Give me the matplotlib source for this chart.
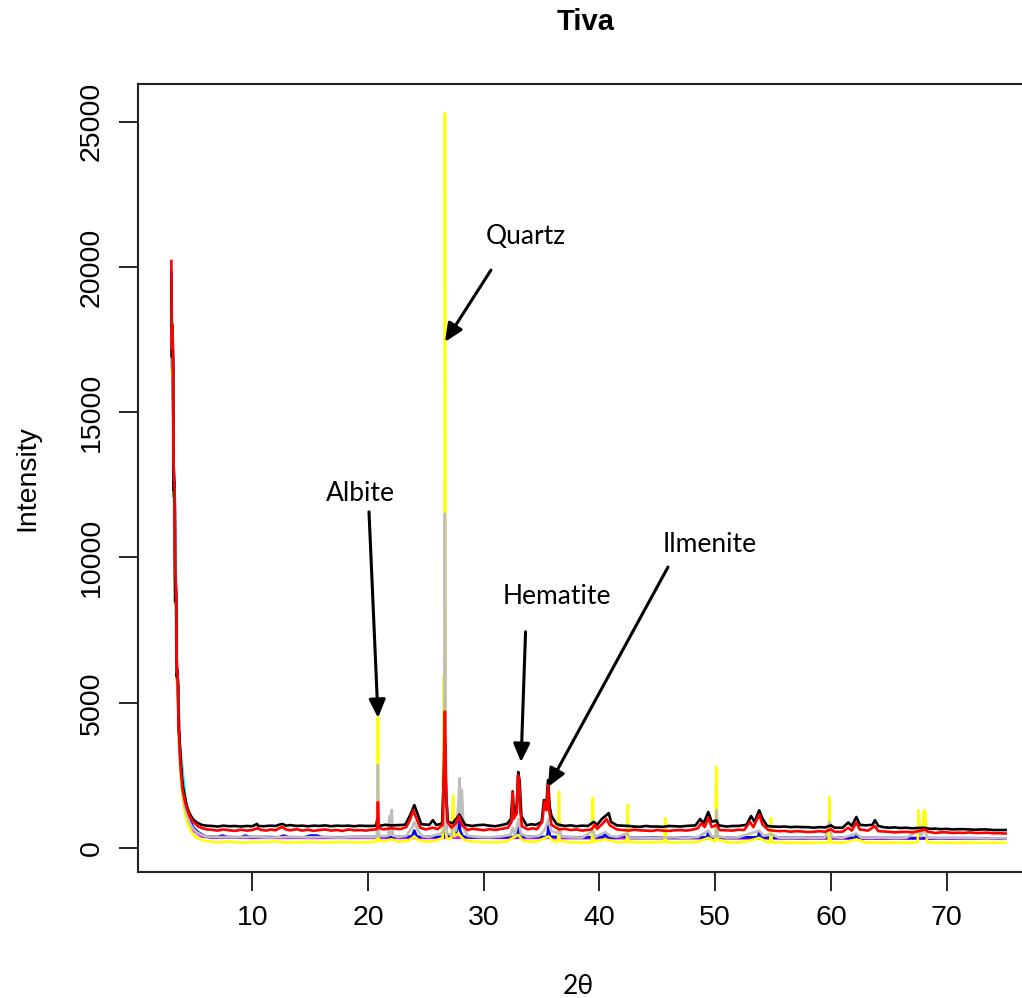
import matplotlib
matplotlib.use("Agg")
import matplotlib.pyplot as plt

# XRD patterns of the Tiva samples: (2-theta, intensity) vertices per sample
red_pattern = [
    (3.00, 20200), (3.05, 17200), (3.10, 18000), (3.14, 16800), (3.18, 13300), (3.23, 12900),
    (3.28, 12300), (3.32, 9500), (3.37, 9300), (3.42, 8600), (3.46, 6400), (3.51, 6100),
    (3.56, 5800), (3.61, 4200), (3.67, 3900), (3.76, 3000), (3.86, 2500), (3.96, 2050),
    (4.10, 1750), (4.25, 1480), (4.40, 1280), (4.60, 1080), (4.80, 950), (5.05, 840),
    (5.35, 740), (5.70, 680), (6.10, 640), (6.5, 630), (7.0, 600), (7.5, 640), (8.0, 610),
    (8.5, 590), (9.0, 630), (9.5, 600), (10.0, 620), (10.4, 680), (10.8, 620), (11.2, 600),
    (11.6, 640), (12.0, 610), (12.3, 680), (12.6, 720), (12.9, 640), (13.3, 610),
    (13.8, 650), (14.3, 600), (14.8, 630), (15.3, 590), (15.8, 620), (16.3, 640),
    (16.8, 600), (17.3, 620), (17.8, 590), (18.3, 640), (18.8, 610), (19.3, 620),
    (19.8, 600), (20.3, 630), (20.6, 640), (20.78, 650), (20.85, 1580),
    (20.93, 700), (21.3, 640), (22.0, 680), (22.8, 650), (23.3, 720), (23.6, 950),
    (23.9, 1300), (24.2, 1000), (24.5, 700), (25.0, 640), (25.6, 700), (26.0, 650),
    (26.45, 800), (26.55, 2800), (26.64, 4700), (26.74, 2200), (26.85, 900), (27.2, 700),
    (27.6, 850), (27.85, 1100), (28.1, 800), (28.6, 620), (29.0, 660), (29.5, 640),
    (30.0, 610), (30.5, 650), (31.0, 620), (31.5, 660), (32.1, 700), (32.4, 900),
    (32.5, 1900), (32.58, 1000), (32.85, 1200), (32.95, 2500), (33.05, 2400), (33.15, 1300),
    (33.3, 750), (33.8, 640), (34.2, 680), (34.6, 650), (35.05, 900), (35.25, 1600),
    (35.4, 1300), (35.55, 2170), (35.65, 1300), (35.85, 800), (36.5, 640), (37.0, 660),
    (37.5, 620), (38.0, 640), (38.5, 600), (39.3, 640), (39.6, 800), (39.8, 660),
    (40.3, 850), (40.6, 1000), (40.9, 780), (41.5, 640), (42.0, 620), (42.5, 600),
    (43.0, 630), (43.5, 610), (44.0, 600), (44.5, 590), (45.0, 620), (45.5, 600),
    (46.0, 590), (46.5, 610), (47.0, 620), (47.5, 600), (48.0, 630), (48.5, 680),
    (48.8, 850), (49.1, 720), (49.4, 1050), (49.7, 720), (50.1, 800), (50.4, 620),
    (51.0, 610), (51.5, 600), (52.0, 630), (52.5, 620), (53.0, 900), (53.3, 720),
    (53.8, 1150), (54.1, 800), (54.6, 620), (55.0, 600), (55.5, 580), (56.0, 590),
    (56.5, 560), (57.0, 580), (57.5, 570), (58.0, 550), (58.5, 560), (59.0, 580),
    (59.5, 560), (60.0, 650), (60.3, 560), (61.0, 560), (61.5, 700), (61.8, 600),
    (62.2, 880), (62.5, 640), (63.2, 600), (63.8, 750), (64.1, 580), (64.5, 570),
    (65.0, 560), (65.5, 540), (66.0, 550), (66.5, 560), (67.0, 540), (67.8, 600),
    (68.1, 650), (68.4, 560), (69.0, 520), (69.5, 540), (70.0, 540), (70.5, 520),
    (71.0, 530), (71.5, 520), (72.0, 540), (72.5, 520), (73.0, 520), (73.5, 530),
    (74.0, 510), (74.5, 510), (75.1, 500),
]

black_pattern = [
    (3.00, 19500), (3.05, 16900), (3.10, 17600), (3.15, 16500), (3.19, 12300), (3.24, 12600),
    (3.29, 12000), (3.33, 8500), (3.38, 9000), (3.43, 8300), (3.47, 5900), (3.52, 6100),
    (3.58, 5600), (3.63, 4100), (3.70, 3800), (3.80, 3000), (3.90, 2500), (4.00, 2100),
    (4.15, 1800), (4.30, 1500), (4.50, 1250), (4.70, 1100), (4.90, 980), (5.20, 880),
    (5.60, 800), (6.00, 770), (6.5, 760), (7.0, 740), (7.5, 770), (8.0, 750), (8.5, 760),
    (9.0, 740), (9.5, 760), (10.0, 750), (10.4, 830), (10.5, 760), (11.0, 750),
    (11.5, 770), (12.0, 760), (12.3, 800), (12.6, 830), (12.9, 770), (13.3, 790),
    (13.8, 760), (14.3, 770), (14.8, 750), (15.3, 770), (15.8, 760), (16.3, 780),
    (16.8, 750), (17.3, 770), (17.8, 760), (18.3, 770), (18.8, 750), (19.3, 770),
    (19.8, 760), (20.3, 760), (20.7, 770), (20.8, 1000), (20.9, 760), (21.5, 800),
    (22.0, 780), (22.6, 790), (23.2, 800), (23.6, 1100), (24.0, 1480), (24.3, 1150),
    (24.6, 820), (25.3, 800), (25.6, 960), (25.9, 790), (26.4, 850), (26.55, 2500),
    (26.64, 3600), (26.75, 1800), (26.9, 900), (27.3, 850), (27.6, 1000), (27.9, 1150),
    (28.1, 1000), (28.4, 800), (29.0, 760), (29.5, 790), (30.0, 800), (30.5, 770),
    (31.0, 750), (31.5, 790), (32.0, 830), (32.35, 1000), (32.5, 1950), (32.6, 1100),
    (32.85, 1500), (32.98, 2620), (33.1, 2270), (33.25, 1100), (33.7, 780), (34.1, 820),
    (34.5, 800), (35.0, 900), (35.2, 1650), (35.4, 1400), (35.55, 2340), (35.7, 1400),
    (35.85, 1100), (36.3, 820), (37.0, 760), (37.5, 780), (38.0, 750), (38.5, 770),
    (39.0, 760), (39.5, 900), (39.8, 800), (40.2, 1000), (40.5, 1100), (40.8, 1200),
    (41.0, 900), (41.5, 780), (42.0, 770), (42.5, 760), (43.0, 740), (43.5, 730),
    (44.0, 760), (44.5, 740), (45.0, 740), (45.5, 730), (46.0, 760), (46.5, 750),
    (47.0, 740), (47.5, 760), (48.3, 780), (48.7, 1000), (49.0, 850), (49.4, 1240),
    (49.7, 900), (50.1, 950), (50.3, 780), (51.0, 740), (51.5, 760), (52.0, 760),
    (52.7, 800), (53.1, 1100), (53.4, 900), (53.8, 1300), (54.1, 1000), (54.5, 760),
    (55.0, 740), (55.5, 730), (56.0, 740), (56.5, 720), (57.0, 730), (57.5, 720),
    (58.0, 720), (58.5, 700), (59.0, 720), (59.5, 710), (60.0, 780), (60.3, 700),
    (61.0, 700), (61.5, 880), (61.8, 760), (62.2, 1070), (62.5, 800), (63.0, 780),
    (63.6, 800), (63.8, 960), (64.1, 760), (64.5, 720), (65.0, 700), (65.5, 710),
    (66.0, 690), (66.5, 700), (67.0, 680), (67.5, 690), (68.0, 700), (68.6, 660),
    (69.0, 670), (69.5, 650), (70.0, 660), (70.5, 640), (71.0, 650), (71.5, 650),
    (72.0, 640), (72.5, 630), (73.0, 640), (73.5, 640), (74.0, 620), (74.5, 620),
    (75.1, 620),
]

gray_pattern = [
    (3.00, 19000), (3.05, 16500), (3.10, 17500), (3.15, 16000), (3.19, 12400), (3.24, 12500),
    (3.29, 11800), (3.33, 8800), (3.38, 9000), (3.43, 8200), (3.47, 5800), (3.52, 5900),
    (3.58, 5400), (3.63, 3900), (3.70, 3500), (3.80, 2700), (3.90, 2150), (4.00, 1800),
    (4.15, 1450), (4.30, 1200), (4.50, 950), (4.70, 780), (4.90, 650), (5.20, 540),
    (5.60, 450), (6.00, 400), (7.0, 380), (8.5, 370), (10.0, 390), (11.5, 360), (13.0, 380),
    (14.5, 370), (16.0, 380), (17.5, 360), (19.0, 380), (20.4, 370), (20.77, 380),
    (20.85, 2860), (20.93, 420), (21.3, 400), (21.75, 420), (21.85, 1100), (21.95, 450),
    (22.05, 1310), (22.15, 430), (22.6, 380), (23.3, 420), (23.8, 700), (24.0, 900),
    (24.3, 600), (24.7, 400), (25.3, 380), (25.8, 450), (26.3, 500), (26.56, 600),
    (26.64, 11500), (26.72, 800), (26.85, 500), (27.2, 450), (27.45, 900), (27.6, 600),
    (27.8, 1500), (27.92, 2400), (28.0, 1200), (28.1, 2000), (28.25, 700), (28.6, 420),
    (29.5, 380), (30.5, 370), (31.5, 400), (32.3, 450), (32.5, 700), (32.7, 450),
    (33.0, 1000), (33.2, 500), (33.8, 380), (34.8, 420), (35.3, 650), (35.6, 1000),
    (35.8, 600), (36.45, 500), (36.55, 750), (36.7, 400), (37.5, 370), (38.5, 360),
    (39.45, 600), (39.6, 380), (40.5, 550), (40.9, 420), (41.5, 380), (42.4, 500),
    (42.6, 360), (43.5, 360), (44.5, 350), (45.5, 360), (46.5, 370), (47.5, 350),
    (48.5, 380), (49.0, 500), (49.4, 600), (49.7, 400), (50.05, 380), (50.13, 1300),
    (50.22, 400), (51.0, 360), (52.0, 370), (53.0, 500), (53.8, 600), (54.2, 420),
    (54.8, 480), (55.5, 360), (56.5, 350), (57.5, 360), (58.5, 350), (59.5, 360),
    (59.9, 900), (60.05, 380), (61.0, 350), (62.2, 500), (62.6, 360), (63.5, 350),
    (64.5, 360), (65.5, 340), (66.5, 350), (67.6, 600), (67.8, 400), (68.1, 700),
    (68.3, 360), (69.5, 340), (70.5, 350), (71.5, 340), (72.5, 340), (73.5, 330),
    (74.5, 340), (75.1, 330),
]

yellow_pattern = [
    (3.00, 18800), (3.05, 16300), (3.10, 17300), (3.15, 15800), (3.19, 12300), (3.24, 12400),
    (3.29, 11600), (3.33, 8700), (3.38, 8900), (3.43, 8100), (3.47, 5700), (3.52, 5800),
    (3.58, 5300), (3.63, 3700), (3.70, 3300), (3.80, 2500), (3.90, 1950), (4.00, 1600),
    (4.15, 1250), (4.30, 1000), (4.50, 750), (4.70, 580), (4.90, 450), (5.20, 350),
    (5.60, 280), (6.00, 240), (7.0, 200), (8.0, 220), (9.0, 190), (10.0, 210), (11.0, 200),
    (12.0, 230), (13.0, 190), (14.0, 200), (15.0, 210), (16.0, 190), (17.0, 200),
    (18.0, 210), (19.0, 190), (20.0, 200), (20.77, 220), (20.85, 4500), (20.93, 260),
    (21.4, 230), (22.0, 300), (22.6, 220), (23.5, 250), (24.0, 400), (24.4, 260),
    (25.0, 220), (25.8, 250), (26.45, 350), (26.55, 5900), (26.6, 3000), (26.64, 25290),
    (26.72, 500), (26.85, 300), (27.2, 350), (27.35, 1820), (27.45, 400), (27.8, 500),
    (28.3, 280), (29.0, 220), (30.0, 210), (31.0, 200), (32.0, 230), (32.5, 350),
    (33.0, 450), (33.4, 240), (34.5, 210), (35.6, 400), (36.0, 230), (36.43, 230),
    (36.5, 1930), (36.57, 250), (37.5, 200), (38.5, 190), (39.35, 200), (39.42, 1720),
    (39.5, 220), (40.5, 300), (41.5, 200), (42.35, 210), (42.42, 1480), (42.5, 220),
    (43.5, 190), (44.5, 200), (45.6, 210), (45.68, 1030), (45.76, 200), (46.5, 190),
    (47.5, 200), (48.5, 210), (49.4, 350), (50.0, 220), (50.1, 2790), (50.2, 300),
    (51.0, 200), (52.0, 190), (53.0, 250), (53.8, 350), (54.5, 200), (54.75, 210),
    (54.82, 1030), (54.9, 200), (56.0, 190), (57.0, 180), (58.0, 190), (59.0, 180),
    (59.8, 190), (59.88, 1760), (59.96, 200), (61.0, 180), (62.2, 300), (63.0, 190),
    (64.0, 180), (65.0, 190), (66.0, 180), (67.0, 190), (67.5, 200), (67.6, 1300),
    (67.7, 500), (67.95, 700), (68.05, 1300), (68.15, 1250), (68.3, 200), (69.0, 180),
    (70.0, 185), (71.0, 180), (72.0, 190), (73.0, 180), (74.0, 185), (75.1, 180),
]

blue_pattern = [
    (3.00, 19800), (3.05, 17100), (3.10, 17900), (3.15, 16600), (3.19, 13100), (3.24, 12700),
    (3.29, 12100), (3.33, 9300), (3.38, 9100), (3.43, 8400), (3.47, 6200), (3.52, 6000),
    (3.58, 5600), (3.63, 4000), (3.70, 3600), (3.80, 2800), (3.90, 2300), (4.00, 1900),
    (4.15, 1550), (4.30, 1300), (4.50, 1050), (4.70, 850), (4.90, 700), (5.20, 580),
    (5.60, 470), (6.00, 400), (7.0, 380), (7.4, 430), (7.8, 380), (9.0, 370), (9.4, 430),
    (9.8, 375), (11.0, 380), (12.3, 370), (12.7, 430), (13.1, 375), (14.5, 370),
    (15.0, 430), (15.6, 430), (16.0, 375), (17.5, 370), (19.0, 380), (20.78, 380),
    (20.85, 900), (20.93, 390), (23.0, 380), (23.8, 400), (24.0, 600), (24.2, 400),
    (24.5, 380), (26.55, 390), (26.64, 3000), (26.74, 420), (27.5, 420), (27.75, 700),
    (27.85, 1300), (27.95, 600), (28.2, 390), (29.0, 370), (31.0, 370), (32.9, 380),
    (33.0, 700), (33.1, 390), (35.5, 380), (35.6, 800), (35.7, 390), (38.0, 370),
    (40.3, 380), (40.5, 500), (40.7, 370), (41.5, 360), (42.0, 420), (42.4, 360),
    (44.0, 360), (47.0, 360), (49.3, 370), (49.4, 550), (49.5, 370), (53.7, 370),
    (53.8, 550), (53.9, 360), (57.0, 350), (60.0, 360), (62.1, 350), (62.2, 450),
    (62.3, 350), (66.0, 345), (69.0, 340), (72.0, 340), (75.1, 330),
]

green_pattern = [
    (3.00, 19300), (3.05, 16600), (3.10, 17400), (3.15, 16200), (3.19, 12100), (3.24, 12300),
    (3.29, 11700), (3.33, 8400), (3.38, 8700), (3.43, 8000), (3.47, 5900), (3.58, 5500),
    (3.70, 3700), (3.90, 2350), (4.30, 1400), (4.90, 620), (5.60, 420), (6.50, 370),
    (12.0, 360), (20.0, 360), (26.55, 360), (26.64, 2500), (26.74, 370), (32.9, 360),
    (33.0, 600), (33.1, 360), (40.0, 350), (50.0, 350), (60.0, 340), (75.1, 320),
]

magenta_pattern = [
    (3.00, 19700), (3.05, 16800), (3.10, 17700), (3.15, 16400), (3.19, 12900), (3.24, 12500),
    (3.29, 11900), (3.33, 9100), (3.38, 8900), (3.43, 8200), (3.47, 6000), (3.58, 5500),
    (3.70, 3600), (3.90, 2250), (4.30, 1350), (4.90, 600), (5.60, 400), (6.50, 360),
    (12.0, 350), (20.0, 350), (26.55, 350), (26.64, 2000), (26.74, 360), (32.9, 350),
    (33.0, 800), (33.1, 350), (35.5, 350), (35.6, 700), (35.7, 345), (50.0, 340),
    (60.0, 330), (75.1, 320),
]

cyan_pattern = [
    (3.00, 19400), (3.10, 17500), (3.19, 12600), (3.33, 9000), (3.47, 6000), (3.70, 3700),
    (4.30, 1400), (4.90, 620), (5.60, 420), (6.50, 370), (12.0, 360), (20.0, 360),
    (26.55, 360), (26.64, 2200), (26.74, 370), (32.9, 360), (33.0, 800), (33.1, 360),
    (40.0, 350), (50.0, 345), (60.0, 340), (75.1, 330),
]

# Drawing order: later samples sit on top
samples = [
    ("#00FFFF", cyan_pattern),
    ("#00CD00", green_pattern),
    ("#FF00FF", magenta_pattern),
    ("#0000FF", blue_pattern),
    ("#FFFF00", yellow_pattern),
    ("#BEBEBE", gray_pattern),
    ("#000000", black_pattern),
    ("#FF0000", red_pattern),
]

phase_names = ["Quartz", "Albite", "Hematite", "Ilmenite"]

W, H = 1022, 998
fig = plt.figure(figsize=(W / 100, H / 100), dpi=100)
ax = fig.add_axes([138 / W, 126 / H, 901 / W, 788 / H])

for color, pattern in samples:
    two_theta = [p[0] for p in pattern]
    counts = [p[1] for p in pattern]
    ax.plot(two_theta, counts, color=color, lw=1.9)

# R-style axis limits: data range padded by 4 % on each side
all_t = [p[0] for _, pat in samples for p in pat]
all_c = [p[1] for _, pat in samples for p in pat]
tx, cx = max(all_t) - min(all_t), max(all_c) - min(all_c)
ax.set_xlim(min(all_t) - 0.04 * tx, max(all_t) + 0.04 * tx)
ax.set_ylim(min(all_c) - 0.04 * cx, max(all_c) + 0.04 * cx)

axis_font = ["Liberation Sans Narrow", "Liberation Sans", "DejaVu Sans"]
ax.set_xticks([10, 20, 30, 40, 50, 60, 70])
ax.set_yticks([0, 5000, 10000, 15000, 20000, 25000])
ax.tick_params(axis="both", direction="out", length=14, width=1.2, color="black",
               labelsize=20.5, pad=10)
for lab in ax.get_xticklabels() + ax.get_yticklabels():
    lab.set_family(axis_font)
for lab in ax.get_yticklabels():
    lab.set_rotation(90)
    lab.set_verticalalignment("center")
for s in ax.spines.values():
    s.set_linewidth(1.5)
    s.set_color("#222222")

fig.text(586 / W, 1 - 22 / H, "Tiva", ha="center", va="center", fontsize=21,
         fontweight="bold", family=["Liberation Sans", "DejaVu Sans"])
fig.text(27 / W, 1 - 478 / H, "Intensity", ha="center", va="center", rotation=90,
         fontsize=20.5, family=axis_font)
fig.text(578 / W, 1 - 986 / H, "2θ", ha="center", va="center", fontsize=19,
         family=["Lato", "DejaVu Sans"])

# Phase labels with arrows pointing at their peaks
label_xy = [(33.65, 21030), (19.30, 12190), (36.33, 8640), (49.55, 10430)]
tail_xy = [(30.62, 19890), (20.08, 11570), (33.61, 7440), (45.92, 9670)]
head_xy = [(26.65, 17420), (20.86, 4480), (33.22, 2960), (35.55, 2100)]
for name, lxy, txy, hxy in zip(phase_names, label_xy, tail_xy, head_xy):
    ax.text(lxy[0], lxy[1], name, ha="center", va="center", fontsize=19,
            family=["Lato", "DejaVu Sans"])
    ax.annotate("", xy=hxy, xytext=txy,
                arrowprops=dict(arrowstyle="-|>,head_length=1.1,head_width=0.5",
                                mutation_scale=10, lw=2.2, color="black",
                                shrinkA=0, shrinkB=0))

fig.savefig("out.png", dpi=100)
